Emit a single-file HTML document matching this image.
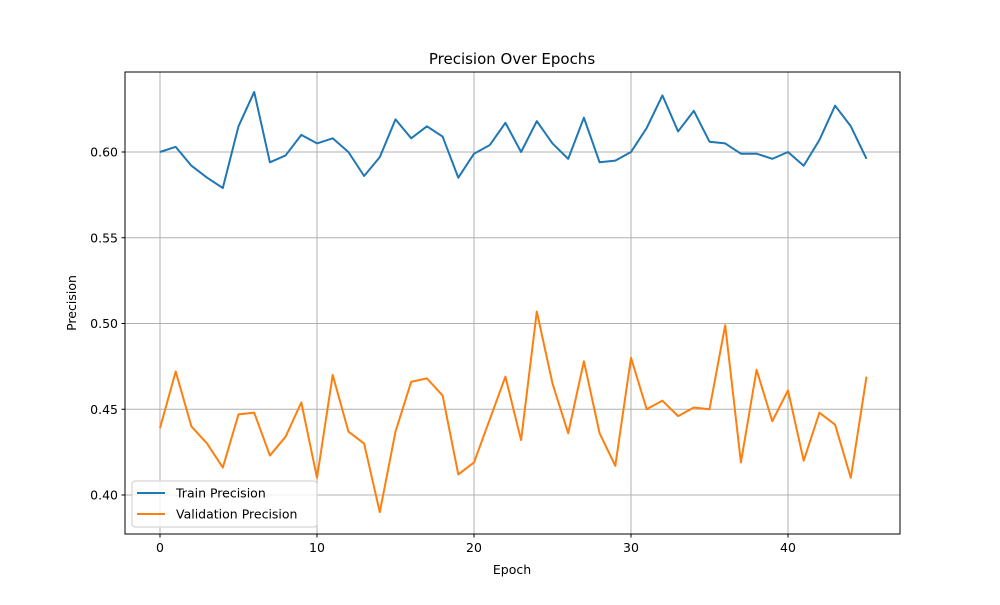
<!DOCTYPE html>
<html><head><meta charset="utf-8"><style>body{margin:0;background:#fff}svg{font-family:"DejaVu Sans","Liberation Sans",sans-serif}</style></head>
<body>
<svg id="chart" width="1000" height="600"></svg>
<script>
const epochs = Array.from({length:46},(_,i)=>i);
const trainPrecision = [0.600,0.603,0.592,0.585,0.579,0.615,0.635,0.594,0.598,0.610,0.605,0.608,0.600,0.586,0.597,0.619,0.608,0.615,0.609,0.585,0.599,0.604,0.617,0.600,0.618,0.605,0.596,0.620,0.594,0.595,0.600,0.614,0.633,0.612,0.624,0.606,0.605,0.599,0.599,0.596,0.600,0.592,0.607,0.627,0.615,0.596];
const valPrecision = [0.439,0.472,0.440,0.430,0.416,0.447,0.448,0.423,0.434,0.454,0.410,0.470,0.437,0.430,0.390,0.437,0.466,0.468,0.458,0.412,0.419,0.444,0.469,0.432,0.507,0.465,0.436,0.478,0.436,0.417,0.480,0.450,0.455,0.446,0.451,0.450,0.499,0.419,0.473,0.443,0.461,0.420,0.448,0.441,0.410,0.469];
const xTicks = [0,10,20,30,40];
const yTicks = [0.40,0.45,0.50,0.55,0.60];
const NS="http://www.w3.org/2000/svg";
const svg=document.getElementById('chart');
const L=125,R=900,T=72,B=534;
const xs=v=>160+v*15.7;
const ys=v=>152+(0.60-v)*1715;
function mk(tag,attrs,parent){const e=document.createElementNS(NS,tag);for(const k in attrs)e.setAttribute(k,attrs[k]);(parent||svg).appendChild(e);return e;}
const grid=mk('g',{});


xTicks.forEach(t=>{
  const l=mk('line',{x1:xs(t),x2:xs(t),y1:T,y2:B,stroke:'#b0b0b0','stroke-width':1},grid);
  
  
  mk('line',{x1:xs(t),x2:xs(t),y1:B,y2:B+3.5,stroke:'#000','stroke-width':1});
  const tx=mk('text',{x:xs(t),y:B+18,'text-anchor':'middle','font-size':12.5,fill:'#000'});
  tx.textContent=t;
  
  
});
yTicks.forEach(t=>{
  const l=mk('line',{x1:L,x2:R,y1:ys(t),y2:ys(t),stroke:'#b0b0b0','stroke-width':1},grid);
  
  
  mk('line',{x1:L-3.5,x2:L,y1:ys(t),y2:ys(t),stroke:'#000','stroke-width':1});
  const tx=mk('text',{x:L-7,y:ys(t)+4.5,'text-anchor':'end','font-size':12.5,fill:'#000'});
  tx.textContent=t.toFixed(2);
  
  
});
function line(data,color,name){
  const p=mk('polyline',{points:data.map((v,i)=>xs(epochs[i])+','+ys(v)).join(' '),fill:'none',stroke:color,'stroke-width':2,'stroke-linejoin':'round'});
  
  
}
line(trainPrecision,'#1f77b4','train-precision-line');
line(valPrecision,'#ff7f0e','validation-precision-line');
const frame=mk('rect',{x:L,y:T,width:R-L,height:B-T,fill:'none',stroke:'#000','stroke-width':1});


</script>
<svg style="position:absolute;left:0;top:0" width="1000" height="600">
<text x="512" y="64" text-anchor="middle" font-size="15">Precision Over Epochs</text>
<text x="512" y="574" text-anchor="middle" font-size="12.5">Epoch</text>
<text x="76" y="303" text-anchor="middle" font-size="12.5" transform="rotate(-90 76 303)">Precision</text>
<g>
<rect x="132" y="481" width="185" height="46" rx="3" fill="#fff" fill-opacity="0.8" stroke="#ccc"/>
<line x1="137" x2="165" y1="493" y2="493" stroke="#1f77b4" stroke-width="2"/>
<text x="176" y="497.5" font-size="12.5">Train Precision</text>
<line x1="137" x2="165" y1="514" y2="514" stroke="#ff7f0e" stroke-width="2"/>
<text x="176" y="518.5" font-size="12.5">Validation Precision</text>
</g>
</svg>
</body></html>
